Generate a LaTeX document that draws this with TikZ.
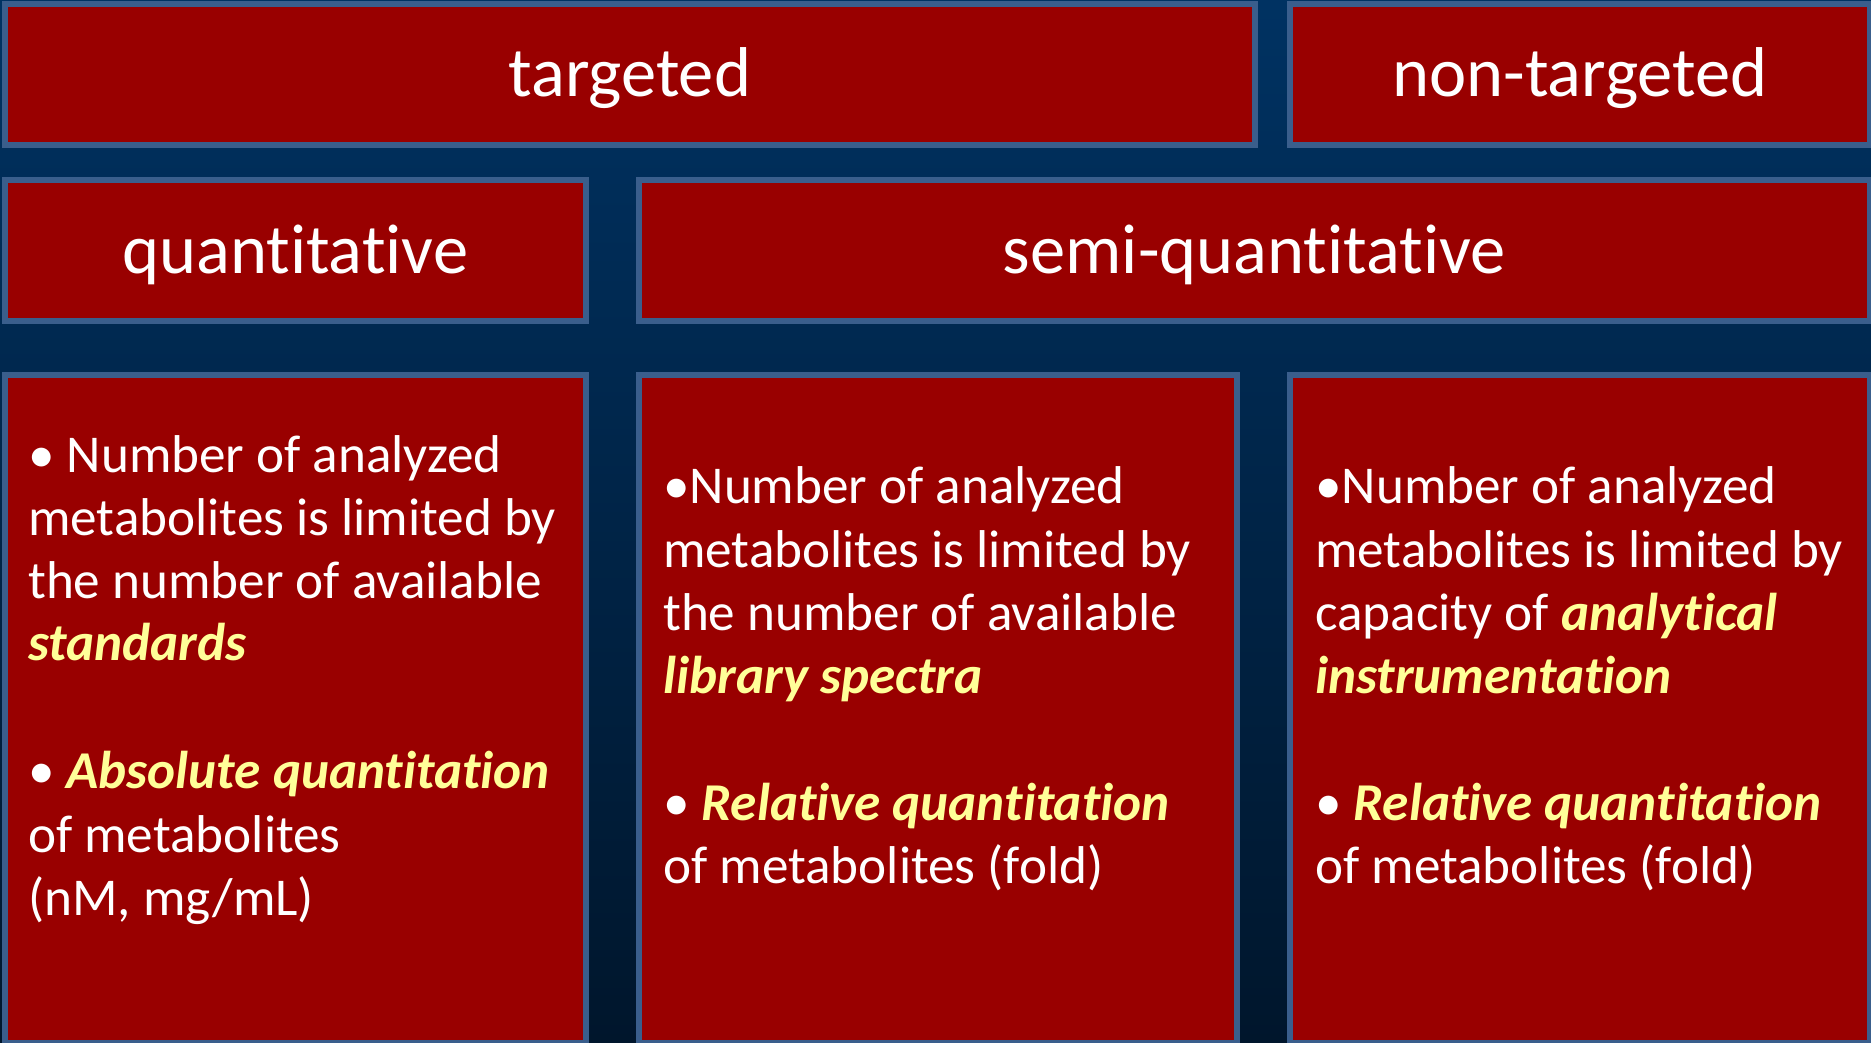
\documentclass[tikz,border=0pt]{standalone}
\usepackage{fontspec}
\setmainfont{Carlito}[Ligatures={NoCommon}]
\definecolor{boxred}{RGB}{153,0,0}
\definecolor{boxedge}{RGB}{58,94,140}
\definecolor{bgtop}{RGB}{0,50,98}
\definecolor{bgbot}{RGB}{0,22,44}
\definecolor{hl}{RGB}{255,255,153}
\newcommand\hlt[1]{\textcolor{hl}{\textbf{\textit{#1}}}}
\begin{document}
\begin{tikzpicture}[x=1pt,y=-1pt,
 panel/.style={draw=boxedge, fill=boxred, line width=6pt},
 title/.style={text=white, font=\fontsize{70.5}{84}\selectfont, anchor=base, inner sep=0pt},
 body/.style={text=white, font=\fontsize{53.2}{63.5}\selectfont, anchor=base west, inner sep=0pt},
]
\useasboundingbox (0,0) rectangle (1871,1043);
\shade[top color=bgtop, bottom color=bgbot] (0,0) rectangle (1871,1043);

% panels
\draw[panel] (5,4) rectangle (1254.5,145);
\draw[panel] (1290,4) rectangle (1870,145);
\draw[panel] (5,180) rectangle (585.5,321);
\draw[panel] (638.5,180) rectangle (1870,321);
\draw[panel] (5,374.5) rectangle (585.5,1043);
\draw[panel] (638.5,374.5) rectangle (1236.5,1043);
\draw[panel] (1290,374.5) rectangle (1870,1043);

% titles
\node[title] (tTarg) at (629.75,97) {targeted};
\node[title] (tNon) at (1580,97) {non-targeted};
\node[title] (tQuant) at (295.25,273) {quantitative};
\node[title] (tSemi) at (1254.25,273) {semi-quantitative};

% box 1
\node[body] (a1) at (28,472) {• Number of analyzed};
\node[body] (a2) at (28,535) {metabolites is limited by};
\node[body] (a3) at (28,598) {the number of available};
\node[body] (a4) at (28,660) {\hlt{standards}};
\node[body] (a5) at (28,788) {• \hlt{Absolute quantitation}};
\node[body] (a6) at (28,852) {of metabolites};
\node[body] (a7) at (28,915) {(nM, mg/mL)};

% box 2
\node[body] (b1) at (663,503) {•Number of analyzed};
\node[body] (b2) at (663,567) {metabolites is limited by};
\node[body] (b3) at (663,630) {the number of available};
\node[body] (b4) at (663,693) {\hlt{library spectra}};
\node[body] (b5) at (663,820) {• \hlt{Relative quantitation}};
\node[body] (b6) at (663,883) {of metabolites (fold)};

% box 3
\node[body] (c1) at (1315,503) {•Number of analyzed};
\node[body] (c2) at (1315,567) {metabolites is limited by};
\node[body] (c3) at (1315,630) {capacity of \hlt{analytical}};
\node[body] (c4) at (1315,693) {\hlt{instrumentation}};
\node[body] (c5) at (1315,820) {• \hlt{Relative quantitation}};
\node[body] (c6) at (1315,883) {of metabolites (fold)};
\end{tikzpicture}
\end{document}
